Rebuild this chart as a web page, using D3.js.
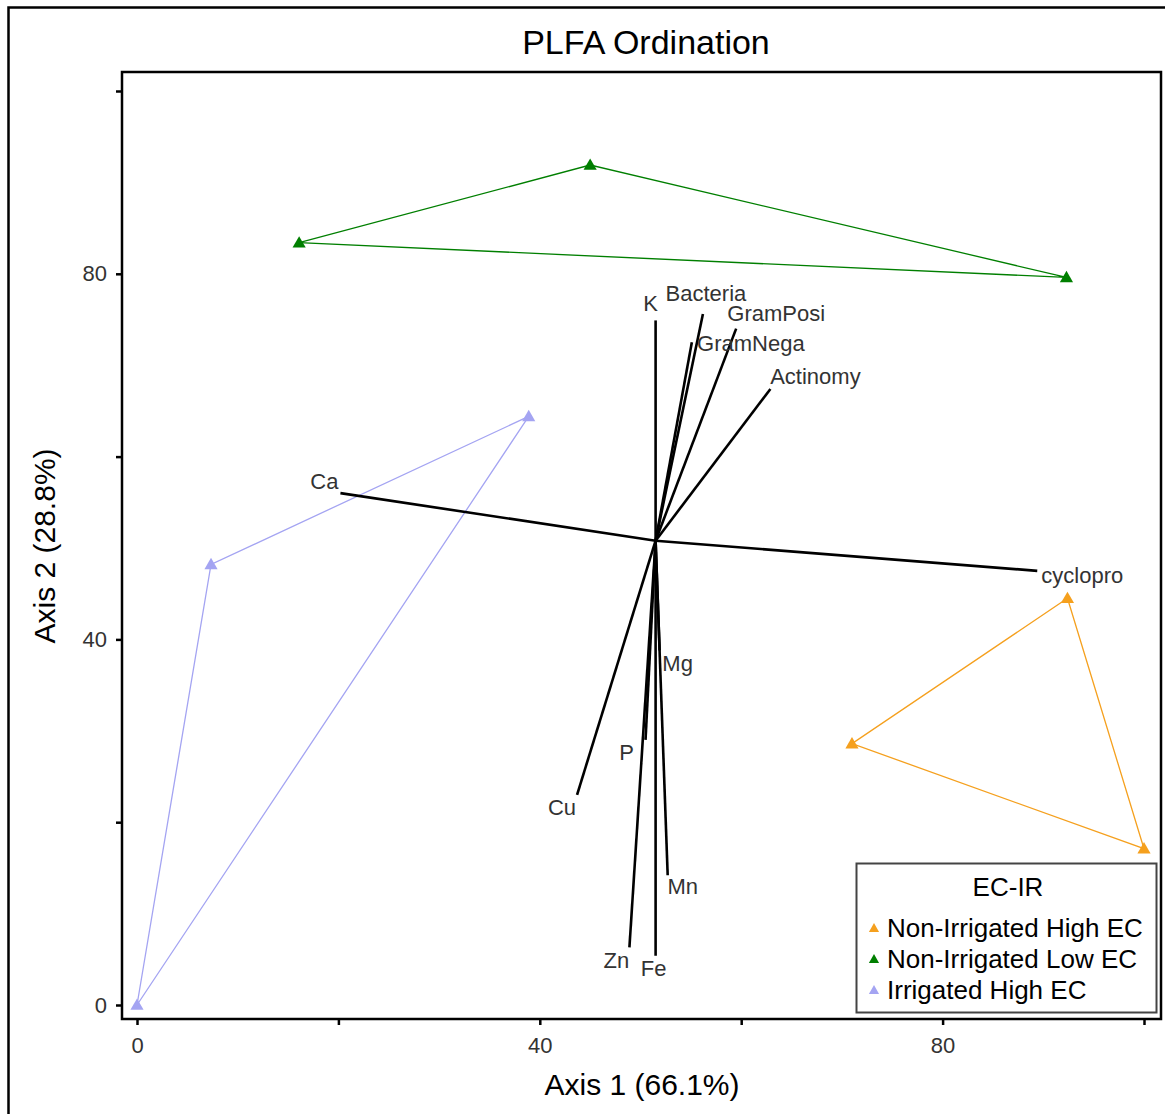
<!DOCTYPE html>
<html><head><meta charset="utf-8">
<script src="https://cdn.jsdelivr.net/npm/d3@7"></script>
<style>
body{margin:0;background:#fff;}
svg{display:block;font-family:"Liberation Sans",Arial,sans-serif;}
</style></head>
<body>
<svg id="chart" width="1165" height="1114"></svg>
<script>
// ---- data ----
const groups = ["Non-Irrigated High EC", "Non-Irrigated Low EC", "Irrigated High EC"];
const groupColors = ["#f5a01e", "#007f00", "#a4a4f2"];
const orangeX = [92.4, 71.0, 100.0];
const orangeY = [44.5, 28.6, 17.1];
const greenX = [16.1, 45.0, 92.3];
const greenY = [83.4, 91.9, 79.6];
const purpleX = [0.0, 7.35, 38.9];
const purpleY = [0.0, 48.2, 64.4];

const vectorOrigin = [51.5, 50.8];
const vectorNames = ["K","Bacteria","GramNega","GramPosi","Actinomy","Ca","cyclopro","Cu","Zn","Fe","Mn","P","Mg"];
const vectorX = [51.5, 56.2, 55.1, 59.5, 62.9, 20.2, 89.4, 43.7, 48.9, 51.5, 52.7, 50.5, 51.9];
const vectorY = [74.9, 75.6, 72.5, 74.0, 67.4, 56.0, 47.5, 23.0, 6.3, 5.4, 14.2, 29.0, 38.8];

const tickValues = [0, 20, 40, 60, 80, 100];
const tickLabels = ["0", "", "40", "", "80", ""];

const titleText = "PLFA Ordination";
const xTitle = "Axis 1 (66.1%)";
const yTitle = "Axis 2 (28.8%)";
const legendTitle = "EC-IR";

// ---- layout (label offsets in px, not data) ----
const labelOffset = {
  K:[-5,-17], Bacteria:[3,-21], GramNega:[59,1], GramPosi:[40,-15], Actinomy:[45,-12],
  Ca:[-16,-12], cyclopro:[45,5], Cu:[-15,13], Zn:[-13,13], Fe:[-2,13], Mn:[15,11], P:[-19,13], Mg:[18,13]
};

const svg = d3.select("#chart");
const frame = {left:122, top:72, right:1161, bottom:1019};

const x = d3.scaleLinear().domain([0,100]).range([137,1144]);
const y = d3.scaleLinear().domain([0,100]).range([1005,91]);

// outer border
svg.append("rect").attr("x",8.5).attr("y",7.5).attr("width",1170).attr("height",1120)
  .attr("fill","none").attr("stroke","#000").attr("stroke-width",2.5);

// title
svg.append("text").attr("x",646).attr("y",54).attr("text-anchor","middle")
  .attr("font-size",34).attr("fill","#000").text(titleText);

// plot frame
svg.append("rect").attr("x",frame.left).attr("y",frame.top)
  .attr("width",frame.right-frame.left).attr("height",frame.bottom-frame.top)
  .attr("fill","none").attr("stroke","#000").attr("stroke-width",2.5);

// axes
const xAxis = d3.axisBottom(x).tickValues(tickValues).tickSize(6).tickPadding(12)
  .tickFormat((d,i)=>tickLabels[i]);
const yAxis = d3.axisLeft(y).tickValues(tickValues).tickSize(6).tickPadding(9)
  .tickFormat((d,i)=>tickLabels[i]);

const gx = svg.append("g").attr("transform",`translate(0,${frame.bottom})`).call(xAxis);
const gy = svg.append("g").attr("transform",`translate(${frame.left},0)`).call(yAxis);
[gx,gy].forEach(g=>{
  g.select(".domain").remove();
  g.selectAll(".tick line").attr("stroke","#000").attr("stroke-width",2.5);
  g.selectAll(".tick text").attr("font-size",22).attr("fill","#333")
    .attr("font-family","'Liberation Sans',Arial,sans-serif");
});

// axis titles
svg.append("text").attr("x",642).attr("y",1095).attr("text-anchor","middle")
  .attr("font-size",30).attr("fill","#000").text(xTitle);
svg.append("text").attr("transform","translate(55,546) rotate(-90)").attr("text-anchor","middle")
  .attr("font-size",30).attr("fill","#000").text(yTitle);

// hulls
const groupX = [orangeX, greenX, purpleX];
const groupY = [orangeY, greenY, purpleY];
const line = d3.line().x(d=>x(d[0])).y(d=>y(d[1]));
groups.forEach((g,gi)=>{
  const pts = groupX[gi].map((v,i)=>[v, groupY[gi][i]]);
  svg.append("path").attr("d", line(pts.concat([pts[0]])))
    .attr("fill","none").attr("stroke",groupColors[gi]).attr("stroke-width",1.3);
});

// vectors
vectorNames.forEach((n,i)=>{
  svg.append("line")
    .attr("x1",x(vectorOrigin[0])).attr("y1",y(vectorOrigin[1]))
    .attr("x2",x(vectorX[i])).attr("y2",y(vectorY[i]))
    .attr("stroke","#000").attr("stroke-width",2.6);
});
vectorNames.forEach((n,i)=>{
  const o = labelOffset[n];
  svg.append("text").attr("x",x(vectorX[i])+o[0]).attr("y",y(vectorY[i])+o[1])
    .attr("text-anchor","middle").attr("dominant-baseline","central")
    .attr("font-size",22).attr("fill","#333").text(n);
});

// markers
const tri = d3.symbol().type(d3.symbolTriangle).size(75);
groups.forEach((g,gi)=>{
  groupX[gi].forEach((v,i)=>{
    svg.append("path").attr("d",tri())
      .attr("transform",`translate(${x(v)},${y(groupY[gi][i])+1})`)
      .attr("fill",groupColors[gi]);
  });
});

// legend
const lg = svg.append("g");
lg.append("rect").attr("x",856.5).attr("y",863.5).attr("width",300).attr("height",149)
  .attr("fill","#fff").attr("stroke","#444").attr("stroke-width",2);
lg.append("text").attr("x",1008).attr("y",896).attr("text-anchor","middle")
  .attr("font-size",26).attr("fill","#000").text(legendTitle);
groups.forEach((g,gi)=>{
  const cy = 928 + gi*31;
  lg.append("path").attr("d",d3.symbol().type(d3.symbolTriangle).size(45)())
    .attr("transform",`translate(874,${cy+1})`).attr("fill",groupColors[gi]);
  lg.append("text").attr("x",887).attr("y",cy).attr("dominant-baseline","central")
    .attr("font-size",26).attr("fill","#000").text(g);
});
</script>
</body></html>
